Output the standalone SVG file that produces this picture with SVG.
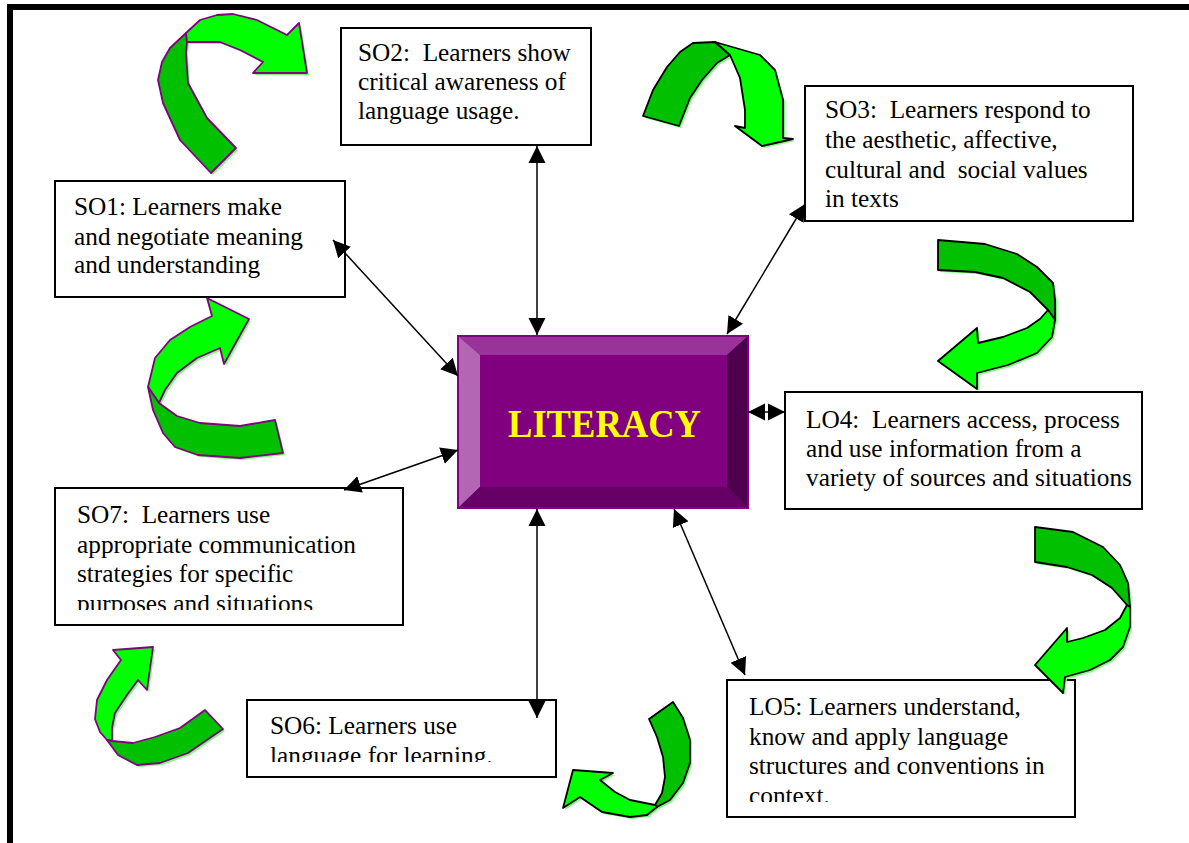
<svg xmlns="http://www.w3.org/2000/svg" width="1189" height="843" viewBox="0 0 1189 843">
<style>
.box{fill:#fff;stroke:#000;stroke-width:2}
.t{font-family:"Liberation Serif","Times New Roman",serif;font-size:25.3px;fill:#000;white-space:pre}
.con{stroke:#000;stroke-width:1.5;fill:none;marker-start:url(#ah);marker-end:url(#ah)}
.dk{fill:#00C000;stroke-linejoin:round;stroke-width:1.8}
.br{fill:#00FF00;stroke-linejoin:round;stroke-width:1.8}
.pu{stroke:#800080}
.bk{stroke:#000}
.sh{fill:#7CFF7C;stroke:none}
</style>
<defs>
<marker id="ah" markerUnits="userSpaceOnUse" markerWidth="18" markerHeight="18" refX="17" refY="8.5" orient="auto-start-reverse" viewBox="0 0 18 17">
<path d="M0,0 L17,8.5 L0,17 Z" fill="#000"/>
</marker>
<clipPath id="cSO7"><rect x="55" y="488" width="348" height="122"/></clipPath>
<clipPath id="cSO6"><rect x="247" y="700" width="309" height="62"/></clipPath>
<clipPath id="cLO5"><rect x="727" y="680" width="348" height="122"/></clipPath>
</defs>
<rect width="1189" height="843" fill="#fff"/>
<rect x="10" y="7" width="1200" height="860" fill="none" stroke="#000" stroke-width="6"/>

<g id="SO2"><rect class="box" x="341" y="28" width="250" height="117"/>
<text class="t" x="358" y="61">SO2:  Learners show</text>
<text class="t" x="358" y="90">critical awareness of</text>
<text class="t" x="358" y="119">language usage.</text></g>

<g id="SO3"><rect class="box" x="805" y="86" width="328" height="135"/>
<text class="t" x="825" y="118">SO3:  Learners respond to</text>
<text class="t" x="825" y="148">the aesthetic, affective,</text>
<text class="t" x="825" y="178">cultural and  social values</text>
<text class="t" x="825" y="207">in texts</text></g>

<g id="SO1"><rect class="box" x="55" y="181" width="290" height="116"/>
<text class="t" x="74" y="215">SO1: Learners make</text>
<text class="t" x="74" y="245">and negotiate meaning</text>
<text class="t" x="74" y="273">and understanding</text></g>

<g id="LO4"><rect class="box" x="785" y="392" width="357" height="117"/>
<text class="t" x="806" y="428">LO4:  Learners access, process</text>
<text class="t" x="806" y="457">and use information from a</text>
<text class="t" x="806" y="486">variety of sources and situations</text></g>

<g id="SO7"><rect class="box" x="55" y="488" width="348" height="137"/>
<g clip-path="url(#cSO7)">
<text class="t" x="77" y="523">SO7:  Learners use</text>
<text class="t" x="77" y="552.5">appropriate communication</text>
<text class="t" x="77" y="582">strategies for specific</text>
<text class="t" x="77" y="612">purposes and situations</text></g></g>

<g id="SO6"><rect class="box" x="247" y="700" width="309" height="77"/>
<g clip-path="url(#cSO6)">
<text class="t" x="270" y="734">SO6: Learners use</text>
<text class="t" x="270" y="764">language for learning.</text></g></g>

<g id="LO5"><rect class="box" x="727" y="680" width="348" height="137"/>
<g clip-path="url(#cLO5)">
<text class="t" x="749" y="715">LO5: Learners understand,</text>
<text class="t" x="749" y="744.5">know and apply language</text>
<text class="t" x="749" y="774">structures and conventions in</text>
<text class="t" x="749" y="804">context.</text></g></g>

<g id="LITERACY">
<rect x="458" y="336" width="290" height="172" fill="#800080"/>
<polygon points="458,336 748,336 727,355 480,355" fill="#993399"/>
<polygon points="458,336 480,355 480,487 458,508" fill="#B366B3"/>
<polygon points="748,336 748,508 727,487 727,355" fill="#4D004D"/>
<polygon points="458,508 480,487 727,487 748,508" fill="#660066"/>
<rect x="458" y="336" width="290" height="172" fill="none" stroke="#800080" stroke-width="2"/>
<text x="508" y="437" font-family="'Liberation Serif','Times New Roman',serif" font-weight="bold" font-size="41" fill="#FFFF00" textLength="193" lengthAdjust="spacingAndGlyphs">LITERACY</text>
</g>

<g id="connectors">
<line class="con" x1="537" y1="146" x2="537" y2="335"/>
<line class="con" x1="805" y1="204" x2="727" y2="334"/>
<line class="con" x1="333" y1="240" x2="458" y2="376"/>
<line class="con" x1="344" y1="490" x2="458" y2="450"/>
<line class="con" x1="748" y1="412" x2="785" y2="412"/>
<line class="con" x1="537" y1="509" x2="537" y2="718"/>
<line class="con" x1="674" y1="509" x2="745" y2="675"/>
</g>

<g id="arrowA">
<g transform="translate(2,2)"><path class="sh" d="M211,173 L180,140 L163,103 L158,80 L162,62 L170,48 L186,33 L200,20 L217,15 L233,14 L257,20 L287,35 L299,23 L307,73 L253,73 L263,62 L240,50 L220,42 L187,42 L186,53 L188,83 L207,118 L236,148 Z"/></g>
<path class="dk pu" d="M211,173 L180,140 L163,103 L158,80 L162,62 L170,48 L186,33 L187,42 L186,53 L188,83 L207,118 L236,148 Z"/>
<path class="br pu" d="M186,33 L200,20 L217,15 L233,14 L257,20 L287,35 L299,23 L307,73 L253,73 L263,62 L240,50 L220,42 L187,42 Z"/>
</g>

<g id="arrowB">
<g transform="translate(2,2)"><path class="sh" d="M643,116 L653,90 L667,67 L680,52 L693,43 L715,42 L760,55 L775,70 L783,100 L783,138 L793,139 L762,146 L735,126 L745,128 L745,110 L740,78 L730,55 L717,63 L702,80 L690,98 L679,126 Z"/></g>
<path class="dk bk" d="M643,116 L653,90 L667,67 L680,52 L693,43 L715,42 L730,55 L717,63 L702,80 L690,98 L679,126 Z"/>
<path class="br bk" d="M715,42 L760,55 L775,70 L783,100 L783,138 L793,139 L762,146 L735,126 L745,128 L745,110 L740,78 L730,55 Z"/>
</g>

<g id="arrowC">
<g transform="translate(2,2)"><path class="sh" d="M938,240 L985,244 L1017,254 L1037,267 L1053,283 L1055,300 L1055,320 L1052,337 L1037,353 L1008,365 L977,373 L977,389 L938,361 L977,328 L978,343 L1003,337 L1027,328 L1040,319 L1048,310 L1030,292 L1003,278 L975,272 L938,270 Z"/></g>
<path class="dk bk" d="M938,240 L985,244 L1017,254 L1037,267 L1053,283 L1055,300 L1055,320 L1048,310 L1030,292 L1003,278 L975,272 L938,270 Z"/>
<path class="br bk" d="M1048,310 L1040,319 L1027,328 L1003,337 L978,343 L977,328 L938,361 L977,389 L977,373 L1008,365 L1037,353 L1052,337 L1055,320 Z"/>
</g>

<g id="arrowD">
<g transform="translate(2,2)"><path class="sh" d="M1035,527 L1073,532 L1103,547 L1120,565 L1128,583 L1130,607 L1130,627 L1123,647 L1110,660 L1090,670 L1065,677 L1063,693 L1035,665 L1067,628 L1067,642 L1083,638 L1105,630 L1120,618 L1127,605 L1112,588 L1092,575 L1067,567 L1035,562 Z"/></g>
<path class="dk bk" d="M1035,527 L1073,532 L1103,547 L1120,565 L1128,583 L1130,607 L1127,605 L1112,588 L1092,575 L1067,567 L1035,562 Z"/>
<path class="br bk" d="M1127,605 L1120,618 L1105,630 L1083,638 L1067,642 L1067,628 L1035,665 L1063,693 L1065,677 L1090,670 L1110,660 L1123,647 L1130,627 L1130,607 Z"/>
</g>

<g id="arrowE">
<g transform="translate(2,2)"><path class="sh" d="M148,387 L155,358 L170,340 L190,327 L212,316 L207,298 L249,319 L224,364 L220,348 L197,358 L177,373 L165,390 L159,403 L177,416 L200,423 L240,426 L275,420 L283,453 L240,458 L198,455 L175,447 L163,433 L153,410 Z"/></g>
<path class="br pu" d="M148,387 L155,358 L170,340 L190,327 L212,316 L207,298 L249,319 L224,364 L220,348 L197,358 L177,373 L165,390 L159,403 Z"/>
<path class="dk pu" d="M148,387 L153,410 L163,433 L175,447 L198,455 L240,458 L283,453 L275,420 L240,426 L200,423 L177,416 L159,403 Z"/>
</g>

<g id="arrowF">
<g transform="translate(2,2)"><path class="sh" d="M107,740 L100,732 L95,719 L97,700 L107,680 L121,660 L113,650 L153,647 L147,690 L138,680 L127,695 L115,713 L112,728 L112,741 L133,743 L155,737 L180,728 L205,710 L223,729 L188,753 L160,763 L137,765 L118,755 Z"/></g>
<path class="br pu" d="M107,740 L100,732 L95,719 L97,700 L107,680 L121,660 L113,650 L153,647 L147,690 L138,680 L127,695 L115,713 L112,728 L112,741 Z"/>
<path class="dk pu" d="M107,740 L118,755 L137,765 L160,763 L188,753 L223,729 L205,710 L180,728 L155,737 L133,743 L112,741 Z"/>
</g>

<g id="arrowG">
<g transform="translate(2,2)"><path class="sh" d="M649,719 L673,702 L683,718 L690,740 L690,763 L683,783 L670,800 L657,807 L647,815 L630,817 L602,812 L580,797 L563,808 L573,770 L613,773 L600,780 L615,792 L630,800 L655,805 L662,793 L665,777 L663,757 L657,737 Z"/></g>
<path class="dk bk" d="M649,719 L673,702 L683,718 L690,740 L690,763 L683,783 L670,800 L657,807 L655,805 L662,793 L665,777 L663,757 L657,737 Z"/>
<path class="br bk" d="M655,805 L630,800 L615,792 L600,780 L613,773 L573,770 L563,808 L580,797 L602,812 L630,817 L647,815 L657,807 Z"/>
</g>
</svg>
